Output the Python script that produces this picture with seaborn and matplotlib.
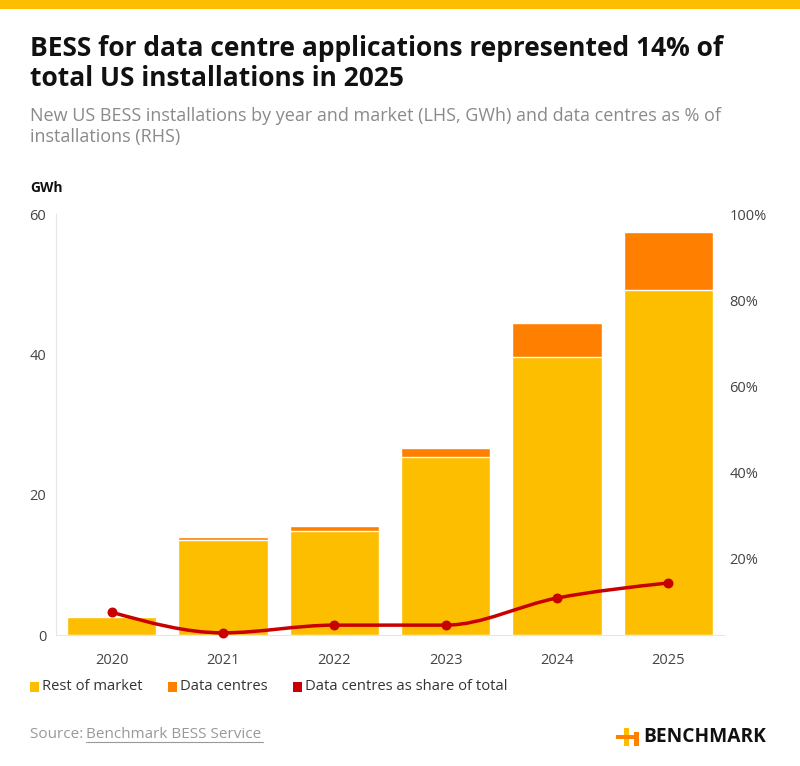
import numpy as np
import pandas as pd
import seaborn as sns
import matplotlib.pyplot as plt
from matplotlib.path import Path
from matplotlib.patches import PathPatch, Rectangle

years = ['2020', '2021', '2022', '2023', '2024', '2025']
rest_of_market = [2.5, 13.6, 14.8, 25.4, 39.6, 49.2]
data_centres = [0.2, 0.4, 0.7, 1.2, 4.8, 8.2]
dc_share = [7.4, 2.6, 4.4, 4.4, 10.7, 14.2]

YELLOW = '#FDBE00'
ORANGE = '#FF8000'
RED = '#C80000'
GREY = '#444444'

sns.set_style('white')
plt.rcParams['font.family'] = ['Open Sans', 'DejaVu Sans']

df = pd.DataFrame({'year': years, 'rest': rest_of_market, 'dc': data_centres, 'share': dc_share})
df['total'] = df['rest'] + df['dc']

fig = plt.figure(figsize=(8, 7.66), dpi=100)
ax = fig.add_axes([0.07, 0.171, 0.835, 0.5496])

sns.barplot(data=df, x='year', y='total', color=ORANGE, width=0.8, saturation=1,
            edgecolor='white', linewidth=1, ax=ax)
sns.barplot(data=df, x='year', y='rest', color=YELLOW, width=0.8, saturation=1,
            edgecolor='white', linewidth=1, ax=ax)
ax.set_xlim(-0.5, 5.5)
ax.set_ylim(0, 60)
ax.set_yticks([0, 20, 40, 60])
ax.set_xlabel('')
ax.set_ylabel('')
for s in ['top', 'right']:
    ax.spines[s].set_visible(False)
ax.spines['left'].set_color('#e6e6e6')
ax.spines['bottom'].set_color('#e6e6e6')
ax.tick_params(axis='y', length=0, labelsize=10.5, labelcolor=GREY, pad=7)
ax.tick_params(axis='x', length=5, color='#e6e6e6', labelsize=10.5, labelcolor=GREY, pad=8)
ax.set_yticklabels(['0', '20', '40', '60'])

# right axis: share of data centres
ax2 = ax.twinx()
ax2.set_ylim(2.1, 100)
ax2.set_yticks([20, 40, 60, 80, 100])
ax2.set_yticklabels([f'{v}%' for v in [20, 40, 60, 80, 100]])
ax2.tick_params(axis='y', length=0, labelsize=10.5, labelcolor=GREY, pad=4)
for s in ax2.spines.values():
    s.set_visible(False)

# smooth monotone curve through the share points
xs = np.arange(len(years), dtype=float)
ys = np.array(dc_share, dtype=float)
sl = np.diff(ys) / np.diff(xs)
t = np.zeros_like(ys)
for i in range(1, len(ys) - 1):
    s0, s1 = sl[i - 1], sl[i]
    p = (s0 + s1) / 2
    t[i] = (np.sign(s0) + np.sign(s1)) * min(abs(s0), abs(s1), 0.5 * abs(p))
t[0] = (3 * sl[0] - t[1]) / 2
t[-1] = (3 * sl[-1] - t[-2]) / 2
verts = [(xs[0], ys[0])]
codes = [Path.MOVETO]
for i in range(len(xs) - 1):
    dx = xs[i + 1] - xs[i]
    verts += [(xs[i] + dx / 3, ys[i] + dx * t[i] / 3),
              (xs[i + 1] - dx / 3, ys[i + 1] - dx * t[i + 1] / 3),
              (xs[i + 1], ys[i + 1])]
    codes += [Path.CURVE4] * 3
ax2.add_patch(PathPatch(Path(verts, codes), facecolor='none', edgecolor=RED, lw=2.5,
                        capstyle='round', zorder=3, clip_on=False))
ax2.scatter(xs, ys, s=38, color=RED, zorder=4, clip_on=False)

# header
fig.add_artist(Rectangle((0, 1 - 9 / 766), 1, 9 / 766, transform=fig.transFigure,
                         color=YELLOW, lw=0))
title_lines = ['BESS for data centre applications represented 14% of',
               'total US installations in 2025']
for line, yb in zip(title_lines, [56, 86]):
    fig.text(30 / 800, 1 - yb / 766, line, fontsize=19, fontweight='bold', color='#111111',
             va='baseline', ha='left')
sub_lines = ['New US BESS installations by year and market (LHS, GWh) and data centres as % of',
             'installations (RHS)']
for line, yb in zip(sub_lines, [121, 142]):
    fig.text(30 / 800, 1 - yb / 766, line, fontsize=13, color='#8a8a8a', va='baseline', ha='left')
fig.text(30 / 800, 1 - 192 / 766, 'GWh', fontsize=10, fontweight='bold', color='#111111',
         va='baseline', ha='left')

# legend
leg_y = 1 - 687 / 766
items = [('Rest of market', YELLOW, 30), ('Data centres', ORANGE, 168), ('Data centres as share of total', RED, 293)]
for label, col, x0 in items:
    fig.add_artist(Rectangle((x0 / 800, leg_y - 5 / 766), 9 / 800, 10 / 766, transform=fig.transFigure,
                             color=col, lw=0))
    fig.text((x0 + 12) / 800, leg_y, label, fontsize=10.6, color='#333333', va='center', ha='left')

# source and logo
src_y = 1 - 734 / 766
fig.text(30 / 800, src_y, 'Source: ', fontsize=11, color='#999999', va='center', ha='left')
fig.text(86 / 800, src_y, 'Benchmark BESS Service', fontsize=11, color='#999999', va='center',
         ha='left')
fig.add_artist(plt.Line2D([86 / 800, 263 / 800], [1 - 742 / 766] * 2, transform=fig.transFigure,
                          color='#999999', lw=0.8))
fig.add_artist(Rectangle((624 / 800, 1 - 746 / 766), 5 / 800, 18 / 766, transform=fig.transFigure,
                         color=YELLOW, lw=0))
fig.add_artist(Rectangle((634 / 800, 1 - 746 / 766), 5 / 800, 14 / 766, transform=fig.transFigure,
                         color=ORANGE, lw=0))
fig.add_artist(Rectangle((616 / 800, 1 - 739 / 766), 22 / 800, 4 / 766, transform=fig.transFigure,
                         color=ORANGE, lw=0))
fig.text(643 / 800, 1 - 737 / 766, 'BENCHMARK', fontsize=13.8, fontweight='bold', color='#111111',
         va='center', ha='left')

fig.savefig('out.png', dpi=100, facecolor='white')
